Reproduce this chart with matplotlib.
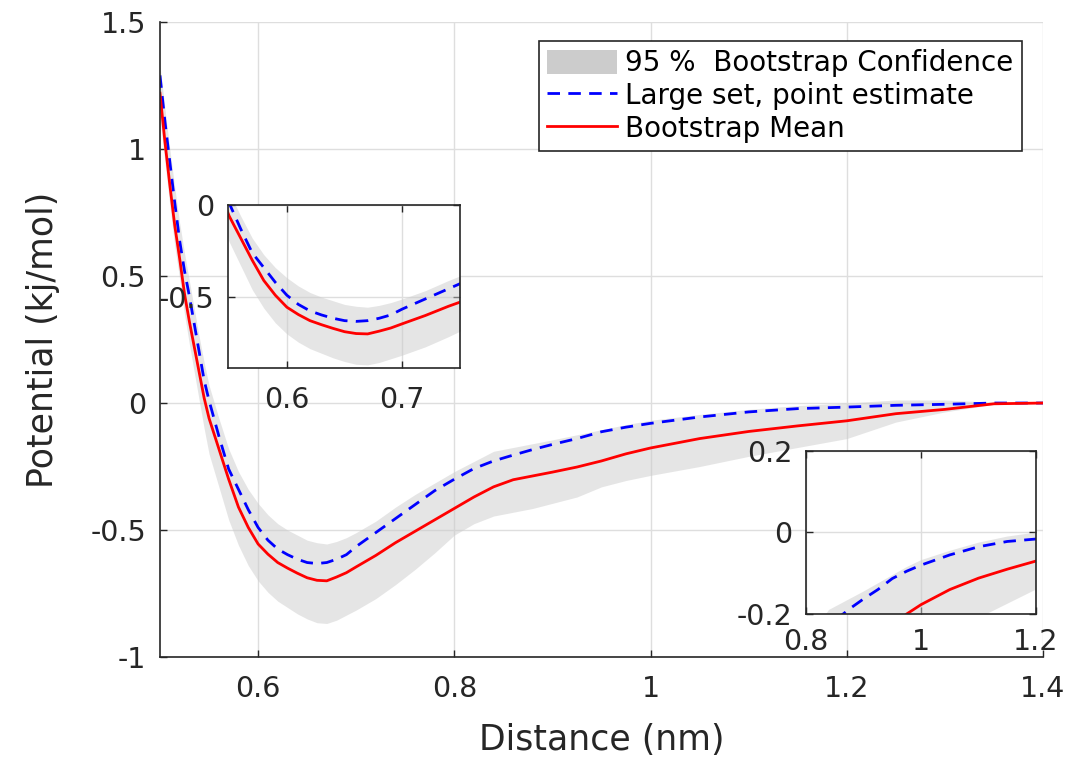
import matplotlib
matplotlib.use("Agg")
import matplotlib.pyplot as plt
from matplotlib.patches import Patch
from matplotlib.ticker import FormatStrFormatter

# distance grid (nm)
distance = [0.50, 0.505, 0.51, 0.515, 0.52, 0.525, 0.53, 0.535, 0.54, 0.545,
            0.55, 0.56, 0.57, 0.58, 0.59, 0.60, 0.61, 0.62, 0.63, 0.64,
            0.65, 0.66, 0.67, 0.68, 0.69, 0.70, 0.72, 0.74, 0.76, 0.78,
            0.80, 0.82, 0.84, 0.86, 0.88, 0.90, 0.925, 0.95, 0.975, 1.00,
            1.05, 1.10, 1.15, 1.20, 1.25, 1.30, 1.35, 1.40]

# bootstrap mean (red)
boot_mean = [1.22, 1.03, 0.86, 0.70, 0.57, 0.43, 0.32, 0.22, 0.12, 0.02,
             -0.06, -0.18, -0.30, -0.41, -0.49, -0.555, -0.595, -0.628, -0.65, -0.67,
             -0.688, -0.698, -0.70, -0.685, -0.668, -0.645, -0.60, -0.55, -0.505, -0.46,
             -0.415, -0.37, -0.33, -0.302, -0.287, -0.272, -0.252, -0.228, -0.20, -0.177,
             -0.14, -0.112, -0.09, -0.07, -0.042, -0.025, -0.003, 0.0]

# large set, point estimate (blue dashed)
point_est = [1.29, 1.11, 0.95, 0.79, 0.64, 0.52, 0.42, 0.31, 0.20, 0.09,
             0.01, -0.13, -0.26, -0.34, -0.42, -0.49, -0.54, -0.575, -0.597, -0.615,
             -0.628, -0.632, -0.628, -0.615, -0.597, -0.565, -0.51, -0.455, -0.40, -0.345,
             -0.30, -0.258, -0.228, -0.205, -0.183, -0.163, -0.14, -0.113, -0.095, -0.08,
             -0.055, -0.035, -0.022, -0.016, -0.009, -0.005, 0.0, 0.0]

# 95 % bootstrap confidence band
ci_upper = [1.33, 1.16, 1.00, 0.85, 0.71, 0.59, 0.48, 0.37, 0.26, 0.16,
            0.07, -0.06, -0.18, -0.27, -0.34, -0.395, -0.44, -0.475, -0.50, -0.52,
            -0.54, -0.55, -0.555, -0.545, -0.53, -0.51, -0.465, -0.41, -0.36, -0.315,
            -0.27, -0.23, -0.19, -0.175, -0.16, -0.145, -0.125, -0.105, -0.085, -0.068,
            -0.045, -0.025, -0.01, 0.0, 0.012, 0.012, 0.003, 0.0]
ci_lower = [1.12, 0.95, 0.78, 0.62, 0.49, 0.35, 0.23, 0.12, 0.01, -0.10,
            -0.20, -0.33, -0.46, -0.56, -0.64, -0.70, -0.745, -0.78, -0.805, -0.83,
            -0.85, -0.865, -0.868, -0.855, -0.835, -0.815, -0.77, -0.715, -0.655, -0.59,
            -0.52, -0.475, -0.445, -0.43, -0.415, -0.395, -0.37, -0.33, -0.305, -0.285,
            -0.25, -0.21, -0.175, -0.14, -0.075, -0.035, -0.005, 0.0]

plt.rcParams["font.family"] = "DejaVu Sans"
plt.rcParams["axes.unicode_minus"] = False

TXT = "#262626"
GRID = "#dedede"
BAND = "#cccccc"
DASH = (0, (4.5, 3))


def draw_series(ax):
    ax.fill_between(distance, ci_lower, ci_upper, color=BAND, alpha=0.5, lw=0)
    ax.plot(distance, point_est, color="#0000ff", lw=2.0, ls=DASH)
    ax.plot(distance, boot_mean, color="#ff0000", lw=2.0, solid_joinstyle="round")


def style_axes(ax, size):
    ax.grid(True, color=GRID, lw=1.0)
    ax.set_axisbelow(True)
    ax.tick_params(direction="in", labelsize=size, colors=TXT, length=5, width=1.0)
    ax.xaxis.set_major_formatter(FormatStrFormatter("%g"))
    ax.yaxis.set_major_formatter(FormatStrFormatter("%g"))
    for s in ax.spines.values():
        s.set_color(TXT)
        s.set_linewidth(1.2)


fig = plt.figure(figsize=(10.68, 7.6), dpi=100)
ax = fig.add_axes([0.1498, 0.1355, 0.8268, 0.8355])
draw_series(ax)
ax.set_xlim(0.5, 1.4)
ax.set_ylim(-1, 1.5)
ax.set_xticks([0.6, 0.8, 1.0, 1.2, 1.4])
ax.set_yticks([-1, -0.5, 0, 0.5, 1, 1.5])
style_axes(ax, 20.5)
ax.tick_params(axis="y", pad=10)
ax.tick_params(axis="x", pad=13)
ax.spines["top"].set_visible(False)
ax.spines["right"].set_visible(False)
ax.set_xlabel("Distance (nm)", fontsize=25, color=TXT, labelpad=14)
ax.set_ylabel("Potential (kj/mol)", fontsize=25, color=TXT, labelpad=22)

handles = [
    Patch(facecolor=BAND, edgecolor="none", label="95 %  Bootstrap Confidence"),
    plt.Line2D([], [], color="#0000ff", lw=2.0, ls=DASH, label="Large set, point estimate"),
    plt.Line2D([], [], color="#ff0000", lw=2.0, label="Bootstrap Mean"),
]
leg = ax.legend(handles=handles, loc="upper right", bbox_to_anchor=(0.976, 0.970),
                borderaxespad=0, fontsize=20, frameon=True, fancybox=False,
                handlelength=2.5, handleheight=0.95, labelspacing=0.17,
                handletextpad=0.3, borderpad=0.3)
leg.get_frame().set_edgecolor(TXT)
leg.get_frame().set_linewidth(1.2)
leg.get_frame().set_alpha(1)

# inset around the minimum
ax1 = fig.add_axes([0.2135, 0.5158, 0.2172, 0.2145])
ax1.set_facecolor("white")
draw_series(ax1)
ax1.set_xlim(0.549, 0.75)
ax1.set_ylim(-0.885, 0)
ax1.set_xticks([0.6, 0.7])
ax1.set_yticks([-0.5, 0])
style_axes(ax1, 20.5)
ax1.tick_params(top=True, right=True, pad=10)
ax1.tick_params(axis="x", pad=13)

# inset on the tail
ax2 = fig.add_axes([0.7547, 0.1921, 0.2154, 0.2145])
ax2.set_facecolor("white")
draw_series(ax2)
ax2.set_xlim(0.8, 1.2)
ax2.set_ylim(-0.2, 0.2)
ax2.set_xticks([0.8, 1.0, 1.2])
ax2.set_yticks([-0.2, 0, 0.2])
style_axes(ax2, 20.5)
ax2.tick_params(top=True, right=True, pad=10)

fig.savefig("out.png", dpi=100)
